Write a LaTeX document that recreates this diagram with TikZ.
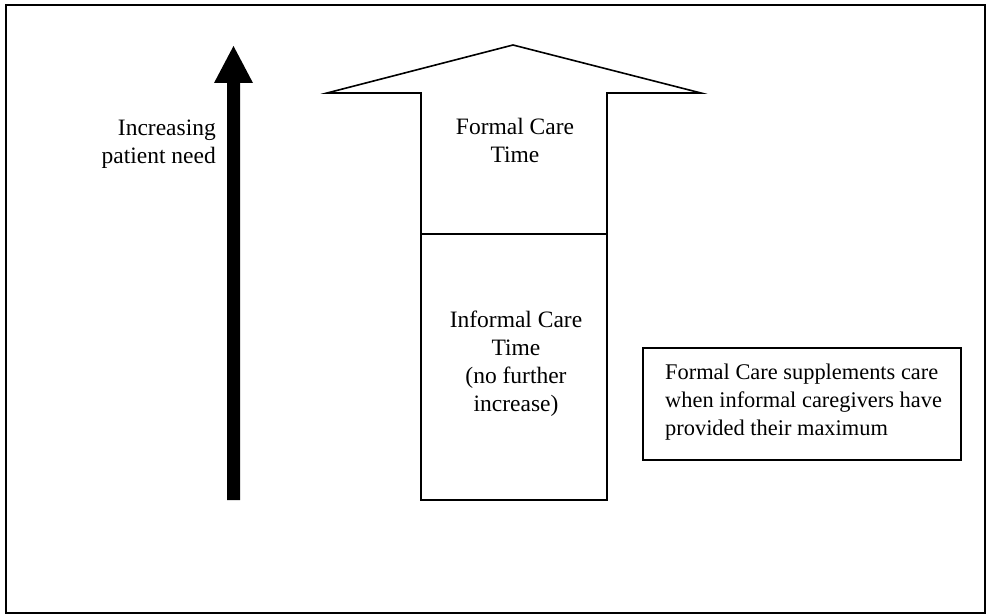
\documentclass[tikz,border=0pt]{standalone}
\usepackage{fontspec}
\setmainfont{Liberation Serif}
\begin{document}
\begin{tikzpicture}[x=1pt,y=-1pt,
  lbl/.style={font=\fontsize{23.5}{28}\selectfont, inner sep=0pt, align=center},
  notelbl/.style={font=\fontsize{22.4}{28}\selectfont, inner sep=0pt, align=left},
  outline/.style={draw=black, line width=1.6pt, line join=miter}]
\useasboundingbox (0,0) rectangle (989,615);
% outer frame
\draw[line width=1.8pt] (6,5) rectangle (985,613);
% black arrow
\fill[black] (227,500) -- (227,83) -- (214,83) -- (233.5,46) -- (253,83) -- (240,83) -- (240,500) -- cycle;
\node[lbl, align=right, anchor=east] (need) at (216,144) {Increasing\\patient need};
% big outlined arrow
\coordinate (tip) at (513,45);
\coordinate (hl) at (327,93);
\coordinate (hr) at (701,93);
\coordinate (sl) at (421,93);
\coordinate (sr) at (607,93);
\coordinate (bl) at (421,500);
\coordinate (br) at (607,500);
\draw[outline] (bl) -- (sl) -- (hl) -- (tip) -- (hr) -- (sr) -- (br) -- cycle;
\draw[line width=1.3pt] (421,234) -- (607,234);
\node[lbl] (formal) at (515,140) {Formal Care\\Time};
\node[lbl] (informal) at (516,364) {Informal Care\\Time\\(no further\\increase)};
% note box
\draw[line width=1.3pt] (643,348) rectangle (961,460);
\node[notelbl, anchor=west] (note) at (665,402) {Formal Care supplements care\\when informal caregivers have\\provided their maximum};
\end{tikzpicture}
\end{document}
